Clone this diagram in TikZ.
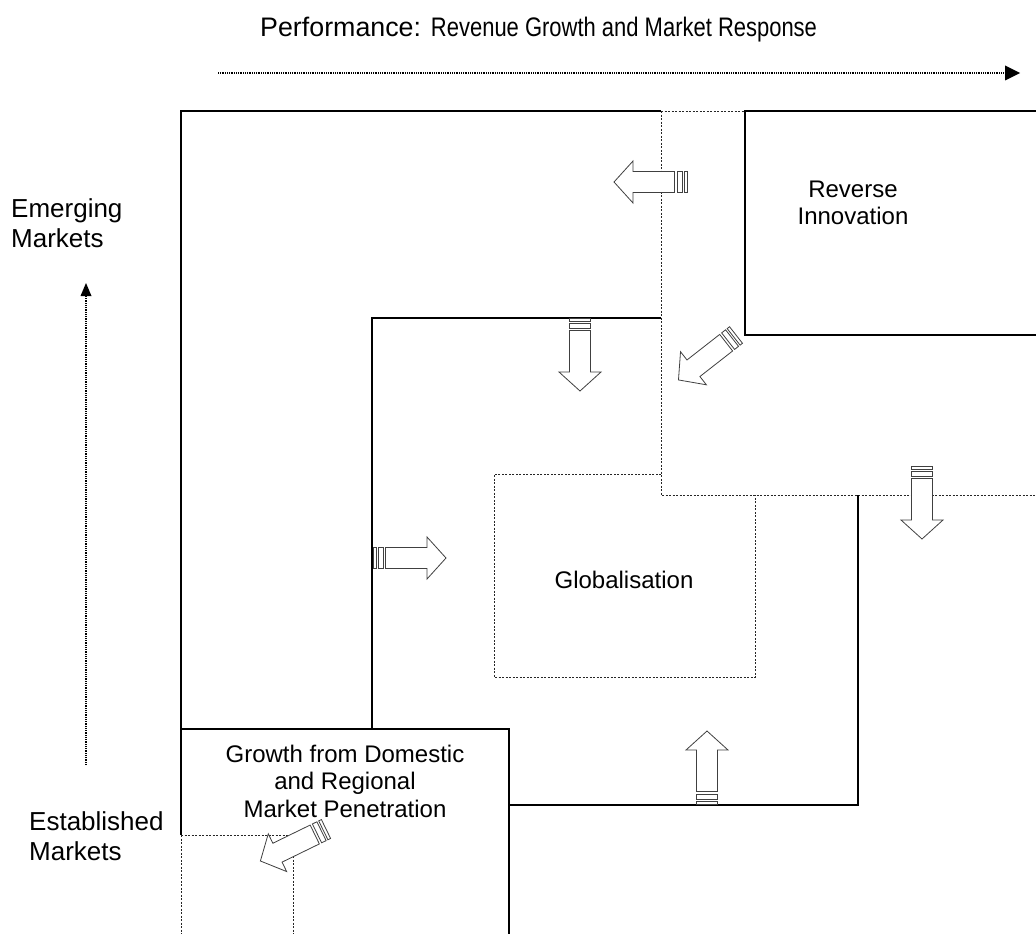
\documentclass[tikz,border=0pt]{standalone}
\usepackage{fontspec}
\setmainfont{Liberation Sans}
\newfontfamily\narrowfont[FakeStretch=0.82]{Liberation Sans}
\usetikzlibrary{arrows.meta}

\tikzset{
  solidedge/.style={line width=2pt, black},
  dottededge/.style={line width=1pt, black!85, dash pattern=on 2pt off 1.5pt},
  axisline/.style={line width=2pt, black, dash pattern=on 1pt off 0.8pt},
  boxtext/.style={inner sep=0pt, align=center, font=\fontsize{24}{27.5}\selectfont},
  axistext/.style={inner sep=0pt, align=left, font=\fontsize{26}{29.5}\selectfont},
  arrowline/.style={line width=0.8pt, draw=black!75, fill=white, line join=miter},
  % striped block arrow, tail at the origin, pointing along +x
  stripearrow/.pic={
    \draw[arrowline] (0,-10.5) rectangle (3,10.5);
    \draw[arrowline] (5,-10.5) rectangle (10,10.5);
    \draw[arrowline] (12.5,-10.5) -- (54,-10.5) -- (54,-21) -- (73,0)
      -- (54,21) -- (54,10.5) -- (12.5,10.5) -- cycle;
  }
}

\begin{document}
\begin{tikzpicture}[x=1pt, y=-1pt]
\useasboundingbox (0,0) rectangle (1036,934);

% title and axes
\node[anchor=base west, inner sep=0pt, font=\fontsize{26.8}{30}\selectfont] (title) at (260,37)
  {Performance: {\narrowfont Revenue Growth and Market Response}};
\coordinate (perfStart) at (218,73);
\coordinate (perfEnd) at (1020,73);
\draw[axisline, -{Triangle[length=15pt, width=15pt, line width=0pt]}] (perfStart) -- (perfEnd);

\coordinate (mktStart) at (86,765);
\coordinate (mktEnd) at (86,283);
\draw[axisline, line width=1.6pt, -{Triangle[length=13pt, width=11pt, line width=0pt]}] (mktStart) -- (mktEnd);

\node[axistext, anchor=west] (emerging) at (11,223) {Emerging\\Markets};
\node[axistext, anchor=west] (established) at (29,836) {Established\\Markets};

% outer frame
\draw[solidedge] (181,835) -- (181,111) -- (661,111);
\draw[dottededge] (181,835) -- (181,934);
\draw[dottededge] (661,111) -- (745,111);

% reverse innovation box
\draw[solidedge] (1036,111) -- (745,111) -- (745,335) -- (1036,335);

% boundary of the reverse-innovation zone
\draw[dottededge] (661,111) -- (661,495) -- (1036,495);

% globalisation band
\draw[solidedge] (661,318) -- (372,318) -- (372,729);
\draw[solidedge] (509,805) -- (858,805) -- (858,495);

% domestic growth box
\draw[solidedge] (181,729) -- (509,729) -- (509,934);
\draw[dottededge] (181,835) -- (293,835) -- (293,934);

% globalisation core
\draw[dottededge] (661,474) -- (494,474) -- (494,677) -- (755,677) -- (755,495);

% labels
\node[boxtext] (reverse) at (853,203) {Reverse\\Innovation};
\node[boxtext] (global) at (624,580) {Globalisation};
\node[boxtext] (domestic) at (345,781) {Growth from Domestic\\and Regional\\Market Penetration};

% movement arrows
\path (687,182) pic[rotate=180] {stripearrow};
\path (580,318) pic[rotate=270] {stripearrow};
\path (736,335) pic[rotate=218] {stripearrow};
\path (373,558) pic[rotate=0] {stripearrow};
\path (922,466) pic[rotate=270] {stripearrow};
\path (707,804) pic[rotate=90] {stripearrow};
\path (326,829) pic[rotate=206] {stripearrow};
\end{tikzpicture}
\end{document}
